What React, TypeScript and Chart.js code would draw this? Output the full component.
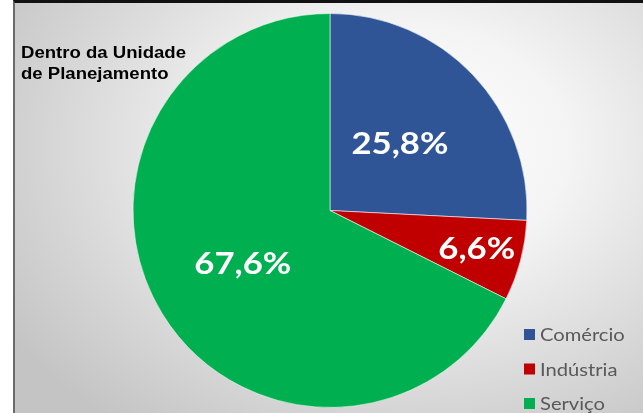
import React, { useEffect, useRef } from "react";
import { Chart, registerables } from "chart.js";

Chart.register(...registerables);

const categories = ["Comércio", "Indústria", "Serviço"];
const shares = [25.8, 6.6, 67.6];
const sliceColors = ["#2F5597", "#C00000", "#00B050"];
const titleLines = ["Dentro da Unidade", "de Planejamento"];

// label radial placement (fraction of radius), per slice
const labelRadius = [0.49, 0.77, 0.52];

const fmt = (v: number) => v.toFixed(1).replace(".", ",") + "%";

const overlayPlugin = {
  id: "overlay",
  afterDraw(chart: any) {
    const ctx = chart.ctx as CanvasRenderingContext2D;
    const meta = chart.getDatasetMeta(0);
    const sx = 1.12;

    // data labels
    meta.data.forEach((arc: any, i: number) => {
      const p = arc.getProps(["x", "y", "startAngle", "endAngle", "outerRadius"], true);
      const mid = (p.startAngle + p.endAngle) / 2;
      const r = p.outerRadius * labelRadius[i];
      const x = p.x + Math.cos(mid) * r;
      const y = p.y + Math.sin(mid) * r;
      ctx.save();
      ctx.translate(x, y);
      ctx.scale(sx, 1);
      ctx.font = "bold 31px Lato";
      ctx.fillStyle = "#ffffff";
      ctx.textAlign = "center";
      ctx.textBaseline = "middle";
      ctx.fillText(fmt(shares[i]), 0, 0);
      ctx.restore();
    });

    // title
    ctx.save();
    ctx.font = "bold 16px 'Liberation Sans', Arial";
    ctx.fillStyle = "#000000";
    ctx.textBaseline = "alphabetic";
    titleLines.forEach((t, i) => {
      ctx.save();
      ctx.translate(21, 58 + i * 21);
      ctx.scale(1.16, 1);
      ctx.fillText(t, 0, 0);
      ctx.restore();
    });
    ctx.restore();

    // legend
    categories.forEach((c, i) => {
      const cy = 334.5 + i * 34.5;
      ctx.save();
      ctx.fillStyle = sliceColors[i];
      ctx.fillRect(524, cy - 5.5, 11, 11);
      ctx.translate(540, cy);
      ctx.scale(1.12, 1);
      ctx.font = "18px Lato";
      ctx.fillStyle = "#595959";
      ctx.textBaseline = "middle";
      ctx.fillText(c, 0, 1);
      ctx.restore();
    });
  },
};

export default function App() {
  const ref = useRef<HTMLCanvasElement>(null);

  useEffect(() => {
    if (!ref.current) return;
    const chart = new Chart(ref.current, {
      type: "pie",
      data: {
        labels: categories,
        datasets: [
          {
            data: shares,
            backgroundColor: sliceColors,
            borderColor: "rgba(255,255,255,0.55)",
            borderWidth: 1,
          },
        ],
      },
      options: {
        responsive: false,
        animation: false,
        layout: { padding: { left: 17, right: 0, top: 13, bottom: 5 } },
        plugins: {
          legend: { display: false },
          tooltip: { enabled: false },
          title: { display: false },
        },
      },
      plugins: [overlayPlugin],
    });
    return () => chart.destroy();
  }, []);

  return (
    <div
      style={{
        position: "fixed",
        left: 0,
        top: 0,
        width: 643,
        height: 413,
        background: "#ffffff",
        overflow: "hidden",
      }}
    >
      <div
        style={{
          position: "absolute",
          left: 13,
          top: 0,
          right: 0,
          bottom: 0,
          borderLeft: "2px solid #6a6a6a",
          borderTop: "3px solid #111111",
          background:
            "radial-gradient(ellipse 75% 85% at 62% 35%, #ffffff 0%, #f4f4f4 35%, #d6d6d6 75%, #c4c4c4 100%)",
        }}
      />
      <canvas
        ref={ref}
        width={643}
        height={413}
        style={{ position: "absolute", left: 0, top: 0, width: 643, height: 413 }}
      />
    </div>
  );
}
